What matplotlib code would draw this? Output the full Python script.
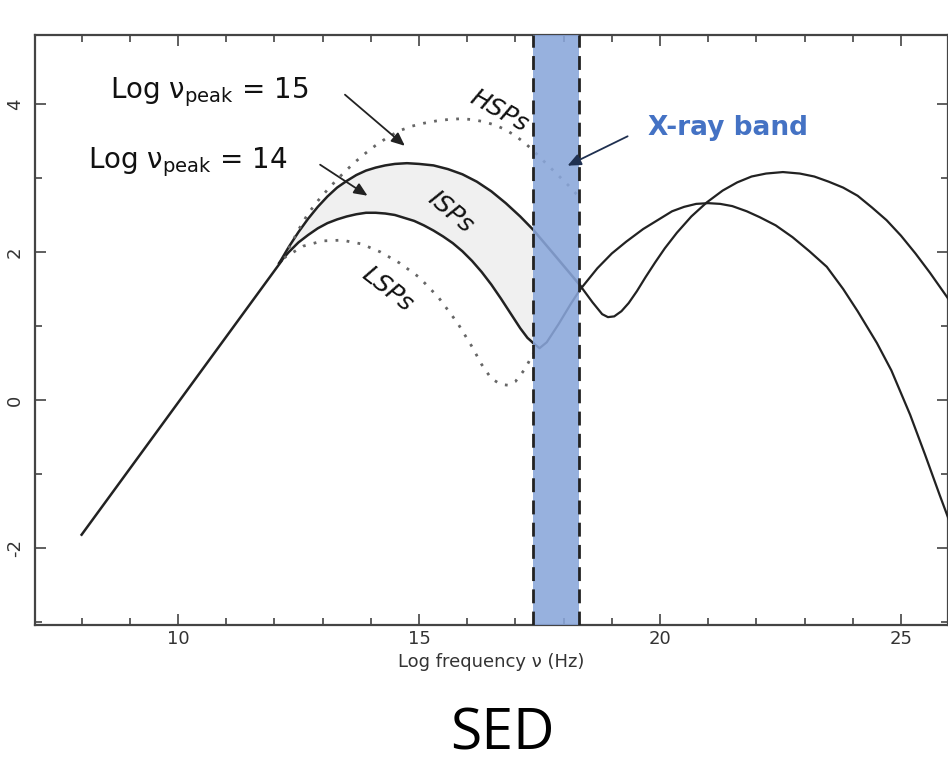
import numpy as np
import matplotlib.pyplot as plt

plt.rcParams['axes.unicode_minus'] = False

# common rising synchrotron branch
rise_x = [8.0, 12.15]
rise_y = [-1.82, 1.88]

# ISP synchrotron bumps (Log nu_peak = 15 and 14)
isp15_x = [12.1, 12.3, 12.5, 12.7, 12.9, 13.1, 13.3, 13.5, 13.7, 13.9, 14.1, 14.3, 14.5, 14.75, 15.0,
           15.3, 15.6, 15.9, 16.2, 16.5, 16.8, 17.1, 17.37, 17.85, 18.34]
isp15_y = [1.85, 2.07, 2.27, 2.45, 2.61, 2.75, 2.87, 2.96, 3.04, 3.10, 3.14, 3.17, 3.19, 3.20, 3.19,
           3.17, 3.12, 3.05, 2.95, 2.82, 2.66, 2.48, 2.30, 1.93, 1.55]
isp14_x = [12.1, 12.3, 12.5, 12.7, 12.9, 13.1, 13.3, 13.5, 13.7, 13.9, 14.1, 14.3, 14.5, 14.7,
           14.9, 15.1, 15.3, 15.5, 15.7, 15.9, 16.1, 16.3, 16.5, 16.7, 16.9, 17.1, 17.25, 17.37]
isp14_y = [1.85, 2.00, 2.13, 2.23, 2.32, 2.39, 2.44, 2.48, 2.51, 2.53, 2.53, 2.52, 2.50, 2.46,
           2.42, 2.36, 2.29, 2.21, 2.12, 2.01, 1.88, 1.73, 1.56, 1.37, 1.17, 0.97, 0.84, 0.77]

# HSP and LSP (dotted)
hsp_x = [12.3, 12.5, 12.7, 12.9, 13.1, 13.3, 13.5, 13.7, 13.9, 14.1, 14.35, 14.6, 14.85, 15.1, 15.35,
         15.6, 15.85, 16.1, 16.35, 16.6, 16.8, 17.0, 17.2, 17.37, 17.6, 17.85, 18.1, 18.34]
hsp_y = [2.05, 2.30, 2.52, 2.69, 2.84, 2.98, 3.11, 3.23, 3.34, 3.44, 3.55, 3.64, 3.70, 3.74, 3.77,
         3.79, 3.80, 3.79, 3.76, 3.71, 3.65, 3.57, 3.47, 3.37, 3.22, 3.06, 2.90, 2.73]
lsp_x = [12.2, 12.6, 13.0, 13.4, 13.8, 14.2, 14.6, 15.0, 15.4, 15.8, 16.1, 16.3, 16.5, 16.7, 16.85,
         17.0, 17.2, 17.37]
lsp_y = [1.92, 2.08, 2.15, 2.16, 2.11, 2.00, 1.85, 1.66, 1.39, 1.04, 0.72, 0.48, 0.29, 0.21, 0.20,
         0.25, 0.42, 0.63]

# inverse Compton bumps
icA_x = [17.37, 17.5, 17.65, 17.9, 18.15, 18.34, 18.7, 19.0, 19.3, 19.65, 20.0, 20.25, 20.5, 20.75,
         21.0, 21.25, 21.5, 21.8, 22.07, 22.4, 22.75, 23.1, 23.46, 23.8, 24.1, 24.5, 24.8, 25.19,
         25.5, 25.8, 26.0]
icA_y = [0.77, 0.70, 0.78, 1.03, 1.30, 1.49, 1.78, 1.98, 2.14, 2.31, 2.45, 2.55, 2.61, 2.65,
         2.66, 2.65, 2.62, 2.55, 2.47, 2.36, 2.20, 2.01, 1.80, 1.50, 1.20, 0.77, 0.40, -0.20,
         -0.74, -1.28, -1.63]
icB_x = [18.34, 18.6, 18.8, 18.92, 19.05, 19.2, 19.35, 19.52, 19.7, 19.9, 20.1, 20.35, 20.65, 20.97,
         21.3, 21.6, 21.9, 22.2, 22.55, 22.9, 23.2, 23.5, 23.8, 24.1, 24.4, 24.7, 25.0, 25.3, 25.6, 26.0]
icB_y = [1.55, 1.32, 1.16, 1.12, 1.13, 1.20, 1.31, 1.47, 1.66, 1.86, 2.05, 2.26, 2.48, 2.67,
         2.83, 2.94, 3.02, 3.06, 3.08, 3.06, 3.02, 2.95, 2.87, 2.76, 2.60, 2.43, 2.22, 1.98, 1.72, 1.35]

band = [17.37, 18.32]
xticks = [10, 15, 20, 25]
yticks = [-2, 0, 2, 4]

fig = plt.figure(figsize=(9.48, 7.64), dpi=100)
ax = fig.add_axes([35/948, 139/764, 913/948, 590/764])

lc = '#222222'
# shaded ISP region
n15 = isp15_x.index(17.37) + 1
ax.fill(isp15_x[:n15] + isp14_x[::-1], isp15_y[:n15] + isp14_y[::-1], color='#f0f0f0', zorder=1)

ax.plot(rise_x, rise_y, color=lc, lw=1.8, zorder=3)
ax.plot(isp15_x, isp15_y, color=lc, lw=1.8, zorder=3)
ax.plot(isp14_x, isp14_y, color=lc, lw=1.8, zorder=3)
ax.plot(hsp_x, hsp_y, color='#666666', lw=2, ls=(0, (1, 3)), zorder=3)
ax.plot(lsp_x, lsp_y, color='#666666', lw=2, ls=(0, (1, 3)), zorder=3)
ax.plot(icA_x, icA_y, color=lc, lw=1.6, zorder=3)
ax.plot(icB_x, icB_y, color=lc, lw=1.6, zorder=3)

# X-ray band
ax.axvspan(band[0], band[1], color='#89a6da', alpha=0.88, lw=0, zorder=4)
for b in band:
    ax.axvline(b, color='#222222', lw=2, ls=(0, (5, 3)), zorder=5)

# labels on curves
tfont = dict(fontsize=18, style='italic', color='#111111', ha='center', va='center')
ax.text(16.66, 3.91, 'HSPs', rotation=-29, **tfont)
ax.text(15.66, 2.54, 'ISPs', rotation=-40, **tfont)
ax.text(14.34, 1.49, 'LSPs', rotation=-38, **tfont)

ax.text(8.59, 4.08, r'Log $\mathregular{\nu_{peak}}$ = 15', fontsize=20, color='#111111', va='baseline')
ax.text(8.13, 3.13, r'Log $\mathregular{\nu_{peak}}$ = 14', fontsize=20, color='#111111', va='baseline')
arr = dict(arrowstyle='-|>,head_length=0.8,head_width=0.35', color='#222222', lw=1.3)
ax.annotate('', xy=(14.75, 3.41), xytext=(13.42, 4.15), arrowprops=arr, zorder=6)
ax.annotate('', xy=(13.98, 2.74), xytext=(12.9, 3.2), arrowprops=arr, zorder=6)

ax.text(21.41, 3.68, 'X-ray band', fontsize=19, fontweight='bold', color='#4472c4', ha='center', va='center')
ax.annotate('', xy=(18.03, 3.15), xytext=(19.38, 3.58),
            arrowprops=dict(arrowstyle='-|>,head_length=0.8,head_width=0.35', color='#1f3050', lw=1.3), zorder=6)

ax.set_xlim(7.033, 25.975)
ax.set_ylim(-3.04, 4.932)
ax.set_xticks(xticks)
ax.set_yticks(yticks)
ax.set_xticks(np.arange(8, 26), minor=True)
ax.set_yticks(np.arange(-3, 5), minor=True)
ax.tick_params(which='both', direction='in', top=True, right=True, colors='#444444', labelcolor='#333333', labelsize=13)
ax.tick_params(which='major', length=8, width=1.2)
ax.tick_params(which='minor', length=5, width=1.2)
ax.tick_params(axis='y', pad=8)
for lab in ax.get_yticklabels():
    lab.set_rotation(90)
    lab.set_va('center')
for s in ax.spines.values():
    s.set_color('#444444')
    s.set_linewidth(1.6)
ax.set_xlabel('Log frequency ν (Hz)', fontsize=13, color='#333333', labelpad=4)

fig.text(502/948, 1 - 750/764, 'SED', fontsize=41, family='Open Sans', ha='center', va='baseline')

fig.savefig('out.png', dpi=100)
